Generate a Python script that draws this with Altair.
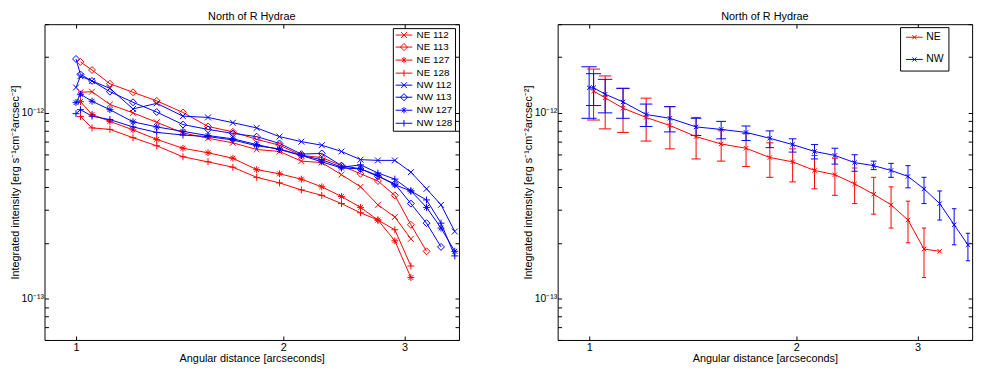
import altair as alt
import pandas as pd

# ---------------- data ----------------
DIST = [1.0, 1.015, 1.055, 1.12, 1.21, 1.31, 1.43, 1.555, 1.69, 1.83, 1.975,
        2.125, 2.275, 2.43, 2.59, 2.745, 2.905, 3.065, 3.23, 3.39, 3.55]

SERIES = ["NE 112", "NE 113", "NE 127", "NE 128", "NW 112", "NW 113", "NW 127", "NW 128"]

NE112_X = DIST[1:18]
NE112_Y = [1.29e-12, 1.30e-12, 1.11e-12, 1.00e-12, 0.89e-12, 0.78e-12, 0.73e-12, 0.69e-12, 0.635e-12,
           0.62e-12, 0.55e-12, 0.54e-12, 0.465e-12, 0.40e-12, 0.32e-12, 0.275e-12, 0.21e-12]
NE113_X = DIST[1:19]
NE113_Y = [1.88e-12, 1.70e-12, 1.435e-12, 1.29e-12, 1.16e-12, 1.005e-12, 0.845e-12, 0.79e-12, 0.72e-12,
           0.67e-12, 0.59e-12, 0.575e-12, 0.52e-12, 0.47e-12, 0.43e-12, 0.36e-12, 0.25e-12, 0.18e-12]
NE127_X = DIST[1:18]
NE127_Y = [1.15e-12, 0.98e-12, 0.90e-12, 0.81e-12, 0.72e-12, 0.645e-12, 0.61e-12, 0.57e-12, 0.495e-12,
           0.47e-12, 0.44e-12, 0.40e-12, 0.355e-12, 0.31e-12, 0.265e-12, 0.205e-12, 0.13e-12]
NE128_X = DIST[1:18]
NE128_Y = [0.955e-12, 0.83e-12, 0.815e-12, 0.735e-12, 0.665e-12, 0.58e-12, 0.545e-12, 0.51e-12, 0.45e-12,
           0.42e-12, 0.385e-12, 0.36e-12, 0.325e-12, 0.29e-12, 0.265e-12, 0.235e-12, 0.15e-12]
NW112_X = DIST
NW112_Y = [1.37e-12, 1.575e-12, 1.485e-12, 1.355e-12, 1.05e-12, 1.125e-12, 0.96e-12, 0.945e-12, 0.885e-12,
           0.83e-12, 0.745e-12, 0.70e-12, 0.67e-12, 0.62e-12, 0.56e-12, 0.555e-12, 0.555e-12, 0.48e-12,
           0.39e-12, 0.32e-12, 0.23e-12]
NW113_X = DIST[:20]
NW113_Y = [1.95e-12, 1.61e-12, 1.485e-12, 1.30e-12, 1.14e-12, 1.01e-12, 0.865e-12, 0.815e-12, 0.775e-12,
           0.745e-12, 0.685e-12, 0.60e-12, 0.605e-12, 0.52e-12, 0.50e-12, 0.455e-12, 0.415e-12, 0.325e-12,
           0.255e-12, 0.19e-12]
NW127_X = DIST
NW127_Y = [1.135e-12, 1.26e-12, 1.155e-12, 1.04e-12, 0.895e-12, 0.84e-12, 0.795e-12, 0.755e-12, 0.725e-12,
           0.675e-12, 0.635e-12, 0.59e-12, 0.545e-12, 0.505e-12, 0.50e-12, 0.46e-12, 0.41e-12, 0.38e-12,
           0.31e-12, 0.24e-12, 0.18e-12]
NW128_X = DIST
NW128_Y = [0.99e-12, 1.04e-12, 0.96e-12, 0.92e-12, 0.84e-12, 0.785e-12, 0.76e-12, 0.745e-12, 0.715e-12,
           0.665e-12, 0.64e-12, 0.59e-12, 0.56e-12, 0.51e-12, 0.525e-12, 0.475e-12, 0.44e-12, 0.38e-12,
           0.34e-12, 0.255e-12, 0.17e-12]

GROUPS = ["NE", "NW"]
NE_X = DIST[1:19]
NE_MEAN = [1.31e-12, 1.205e-12, 1.06e-12, 0.945e-12, 0.855e-12, 0.745e-12, 0.68e-12, 0.645e-12, 0.575e-12,
           0.545e-12, 0.49e-12, 0.465e-12, 0.415e-12, 0.365e-12, 0.32e-12, 0.265e-12, 0.185e-12, 0.18e-12]
NE_ERR_X = DIST[1:18]
NE_HI = [1.72e-12, 1.58e-12, 1.355e-12, 1.20e-12, 1.08e-12, 0.945e-12, 0.81e-12, 0.775e-12, 0.69e-12,
         0.64e-12, 0.59e-12, 0.57e-12, 0.505e-12, 0.45e-12, 0.40e-12, 0.335e-12, 0.24e-12]
NE_LO = [0.915e-12, 0.82e-12, 0.785e-12, 0.705e-12, 0.64e-12, 0.565e-12, 0.55e-12, 0.515e-12, 0.45e-12,
         0.425e-12, 0.39e-12, 0.36e-12, 0.325e-12, 0.285e-12, 0.24e-12, 0.20e-12, 0.13e-12]
NW_X = DIST
NW_MEAN = [1.365e-12, 1.365e-12, 1.26e-12, 1.145e-12, 0.98e-12, 0.935e-12, 0.84e-12, 0.815e-12, 0.785e-12,
           0.73e-12, 0.675e-12, 0.62e-12, 0.59e-12, 0.54e-12, 0.52e-12, 0.49e-12, 0.455e-12, 0.39e-12,
           0.325e-12, 0.25e-12, 0.195e-12]
NW_HI = [1.77e-12, 1.625e-12, 1.515e-12, 1.355e-12, 1.115e-12, 1.08e-12, 0.935e-12, 0.90e-12, 0.85e-12,
         0.80e-12, 0.725e-12, 0.675e-12, 0.645e-12, 0.595e-12, 0.55e-12, 0.535e-12, 0.52e-12, 0.45e-12,
         0.38e-12, 0.305e-12, 0.225e-12]
NW_LO = [0.935e-12, 1.095e-12, 1.0e-12, 0.935e-12, 0.845e-12, 0.79e-12, 0.755e-12, 0.725e-12, 0.71e-12,
         0.65e-12, 0.615e-12, 0.565e-12, 0.53e-12, 0.485e-12, 0.495e-12, 0.45e-12, 0.395e-12, 0.325e-12,
         0.265e-12, 0.195e-12, 0.16e-12]

X_TICKS = [1, 2, 3]
Y_LABEL_TICKS = [1e-13, 1e-12]
Y_TICKS = [6e-14, 7e-14, 8e-14, 9e-14, 1e-13, 2e-13, 3e-13, 4e-13, 5e-13, 6e-13, 7e-13, 8e-13,
           9e-13, 1e-12, 2e-12, 3e-12]

# ---------------- styles ----------------
W, H = 420, 320
FONT = "Liberation Sans"
RED, BLUE = "#ff0000", "#0000ff"
SERIES_COLORS = [RED] * 4 + [BLUE] * 4
MARK_X = "M-0.85,-0.85L0.85,0.85M-0.85,0.85L0.85,-0.85"
MARK_D = "M0,-1L1,0L0,1L-1,0Z"
MARK_S = "M-1,0L1,0M0,-1L0,1M-0.7,-0.7L0.7,0.7M-0.7,0.7L0.7,-0.7"
MARK_P = "M-1,0L1,0M0,-1L0,1"
LEG_X = "M-1,0L3,0M0.3,-0.7L1.7,0.7M0.3,0.7L1.7,-0.7"
LEG_D = "M-1,0L3,0M1,-0.85L1.85,0L1,0.85L0.15,0Z"
LEG_S = "M-1,0L3,0M1,-0.75L1,0.75M0.5,-0.5L1.5,0.5M0.5,0.5L1.5,-0.5"
LEG_P = "M-1,0L3,0M1,-0.8L1,0.8"
LEG_SMALL_X = "M-1,0L3,0M0.5,-0.5L1.5,0.5M0.5,0.5L1.5,-0.5"
SMALL_X = "M-1,-1L1,1M-1,1L1,-1"

XSCALE = alt.Scale(type="log", domain=[0.9, 3.6], nice=False)
YSCALE = alt.Scale(type="log", domain=[6e-14, 3e-12], nice=False)
Y_TITLE = "Integrated intensity [erg s\u207b\u00b9cm\u207b\u00b2arcsec\u207b\u00b2]"
Y_LABEL_EXPR = "datum.value < 5e-13 ? '10\u207b\u00b9\u00b3' : '10\u207b\u00b9\u00b2'"

# ---------------- tables ----------------
left_rows = []
for name, xs, ys in [("NE 112", NE112_X, NE112_Y), ("NE 113", NE113_X, NE113_Y),
                     ("NE 127", NE127_X, NE127_Y), ("NE 128", NE128_X, NE128_Y),
                     ("NW 112", NW112_X, NW112_Y), ("NW 113", NW113_X, NW113_Y),
                     ("NW 127", NW127_X, NW127_Y), ("NW 128", NW128_X, NW128_Y)]:
    for x, y in zip(xs, ys):
        left_rows.append({"series": name, "distance": x, "intensity": y})
left_df = pd.DataFrame(left_rows)

mean_rows = []
for g, xs, ys in [("NE", NE_X, NE_MEAN), ("NW", NW_X, NW_MEAN)]:
    for x, y in zip(xs, ys):
        mean_rows.append({"group": g, "distance": x, "intensity": y})
mean_df = pd.DataFrame(mean_rows)

err_rows = []
for g, xs, lo, hi in [("NE", NE_ERR_X, NE_LO, NE_HI), ("NW", NW_X, NW_LO, NW_HI)]:
    for x, l, h in zip(xs, lo, hi):
        err_rows.append({"group": g, "distance": x, "lo": l, "hi": h})
err_df = pd.DataFrame(err_rows)


def main_axes_layer(data):
    return alt.Chart(data).mark_point(opacity=0).encode(
        x=alt.X("distance:Q", scale=XSCALE,
                axis=alt.Axis(orient="bottom", values=X_TICKS, format="d", ticks=False, domain=False,
                              labelPadding=2, labelFontSize=11, title="Angular distance [arcseconds]",
                              titlePadding=0)),
        y=alt.Y("intensity:Q", scale=YSCALE,
                axis=alt.Axis(orient="left", values=Y_LABEL_TICKS, labelExpr=Y_LABEL_EXPR, ticks=False,
                              domain=False, labelPadding=1, labelFontSize=10.5, title=Y_TITLE,
                              titlePadding=1)),
    )


def tick_layers(data):
    t1 = alt.Chart(data).mark_point(opacity=0).encode(
        x=alt.X("distance:Q", scale=XSCALE,
                axis=alt.Axis(orient="top", offset=-H, values=X_TICKS, labels=False, domain=False,
                              title=None, tickSize=4)),
        y=alt.Y("intensity:Q", scale=YSCALE,
                axis=alt.Axis(orient="right", offset=-W, values=Y_TICKS, labels=False, domain=False,
                              title=None, tickSize=4)),
    )
    t2 = alt.Chart(data).mark_point(opacity=0).encode(
        x=alt.X("distance:Q", scale=XSCALE,
                axis=alt.Axis(orient="bottom", offset=-H, values=X_TICKS, labels=False, domain=False,
                              title=None, tickSize=4)),
        y=alt.Y("intensity:Q", scale=YSCALE,
                axis=alt.Axis(orient="left", offset=-W, values=Y_TICKS, labels=False, domain=False,
                              title=None, tickSize=4)),
    )
    return [t1, t2]


XN = alt.X("distance:Q", scale=XSCALE, axis=None)
YN = alt.Y("intensity:Q", scale=YSCALE, axis=None)
TITLE = alt.TitleParams("North of R Hydrae", fontSize=11, fontWeight="normal", offset=2, font=FONT)

# ---------------- left panel ----------------
series_color = alt.Scale(domain=SERIES, range=SERIES_COLORS)
left_lines = alt.Chart(left_df).mark_line(strokeWidth=1).encode(
    x=XN, y=YN, color=alt.Color("series:N", scale=series_color, legend=None))
left_points = alt.Chart(left_df).mark_point(filled=False, size=49, strokeWidth=1, opacity=1).encode(
    x=XN, y=YN,
    color=alt.Color("series:N", scale=series_color, legend=None),
    shape=alt.Shape("series:N", scale=alt.Scale(domain=SERIES, range=[MARK_X, MARK_D, MARK_S, MARK_P] * 2),
                    legend=None))
left_leg_def = alt.Legend(title=None, orient="top-right", offset=4, padding=2, rowPadding=1.2,
                          labelOffset=12, symbolSize=72, symbolStrokeWidth=1, labelFontSize=10,
                          strokeColor="black", fillColor="white", labelFont=FONT, labelColor="black")
left_leg = alt.Chart(left_df).mark_point(filled=False, size=72, opacity=0).encode(
    x=XN, y=YN,
    color=alt.Color("series:N", scale=series_color, legend=left_leg_def),
    shape=alt.Shape("series:N", scale=alt.Scale(domain=SERIES, range=[LEG_X, LEG_D, LEG_S, LEG_P] * 2),
                    legend=left_leg_def))

left = alt.layer(left_lines, left_points, left_leg, main_axes_layer(left_df), *tick_layers(left_df)) \
    .resolve_scale(color="independent", shape="independent") \
    .resolve_axis(x="independent", y="independent") \
    .properties(width=W, height=H, title=TITLE)

# ---------------- right panel ----------------
group_color = alt.Scale(domain=GROUPS, range=[RED, BLUE])
CAP_EXPR_L = "datum.distance - (datum.group == 'NE' ? 0.022 : 0.0255)"
CAP_EXPR_R = "datum.distance + (datum.group == 'NE' ? 0.022 : 0.0255)"

bars = alt.Chart(err_df).mark_rule(strokeWidth=1).encode(
    x=XN, y=alt.Y("lo:Q", scale=YSCALE, axis=None), y2="hi:Q",
    color=alt.Color("group:N", scale=group_color, legend=None))
caps_lo = alt.Chart(err_df).transform_calculate(xl=CAP_EXPR_L, xr=CAP_EXPR_R).mark_rule(strokeWidth=1).encode(
    x=alt.X("xl:Q", scale=XSCALE, axis=None), x2="xr:Q", y=alt.Y("lo:Q", scale=YSCALE, axis=None),
    color=alt.Color("group:N", scale=group_color, legend=None))
caps_hi = alt.Chart(err_df).transform_calculate(xl=CAP_EXPR_L, xr=CAP_EXPR_R).mark_rule(strokeWidth=1).encode(
    x=alt.X("xl:Q", scale=XSCALE, axis=None), x2="xr:Q", y=alt.Y("hi:Q", scale=YSCALE, axis=None),
    color=alt.Color("group:N", scale=group_color, legend=None))
right_lines = alt.Chart(mean_df).mark_line(strokeWidth=1).encode(
    x=XN, y=YN, color=alt.Color("group:N", scale=group_color, legend=None))
right_points = alt.Chart(mean_df).mark_point(filled=False, size=20, strokeWidth=1, opacity=1,
                                             shape=SMALL_X).encode(
    x=XN, y=YN, color=alt.Color("group:N", scale=group_color, legend=None))
right_leg_def = alt.Legend(title=None, orient="none", legendX=W - 73, legendY=3, padding=5, rowPadding=11.5,
                           labelOffset=11, symbolSize=72, symbolStrokeWidth=1, labelFontSize=10.5,
                           strokeColor="black", fillColor="white", labelFont=FONT, labelColor="black")
right_leg = alt.Chart(mean_df).mark_point(filled=False, size=72, opacity=0).encode(
    x=XN, y=YN,
    color=alt.Color("group:N", scale=group_color, legend=right_leg_def),
    shape=alt.Shape("group:N", scale=alt.Scale(domain=GROUPS, range=[LEG_SMALL_X, LEG_SMALL_X]),
                    legend=right_leg_def))

right = alt.layer(bars, caps_lo, caps_hi, right_lines, right_points, right_leg,
                  main_axes_layer(mean_df), *tick_layers(mean_df)) \
    .resolve_scale(color="independent", shape="independent") \
    .resolve_axis(x="independent", y="independent") \
    .properties(width=W, height=H, title=TITLE)

chart = alt.hconcat(left, right, spacing=54).properties(
    padding={"left": 0, "top": 0, "right": 0, "bottom": 0}
).configure(font=FONT).configure_view(
    stroke="black", strokeWidth=1
).configure_axis(
    grid=False, labelFont=FONT, titleFont=FONT, labelFontSize=11, titleFontSize=11,
    titleFontWeight="normal", labelColor="black", titleColor="black", tickColor="black", tickWidth=1
).configure_title(color="black", anchor="middle")

chart.save("out.html", embed_options={"renderer": "svg", "actions": False})
